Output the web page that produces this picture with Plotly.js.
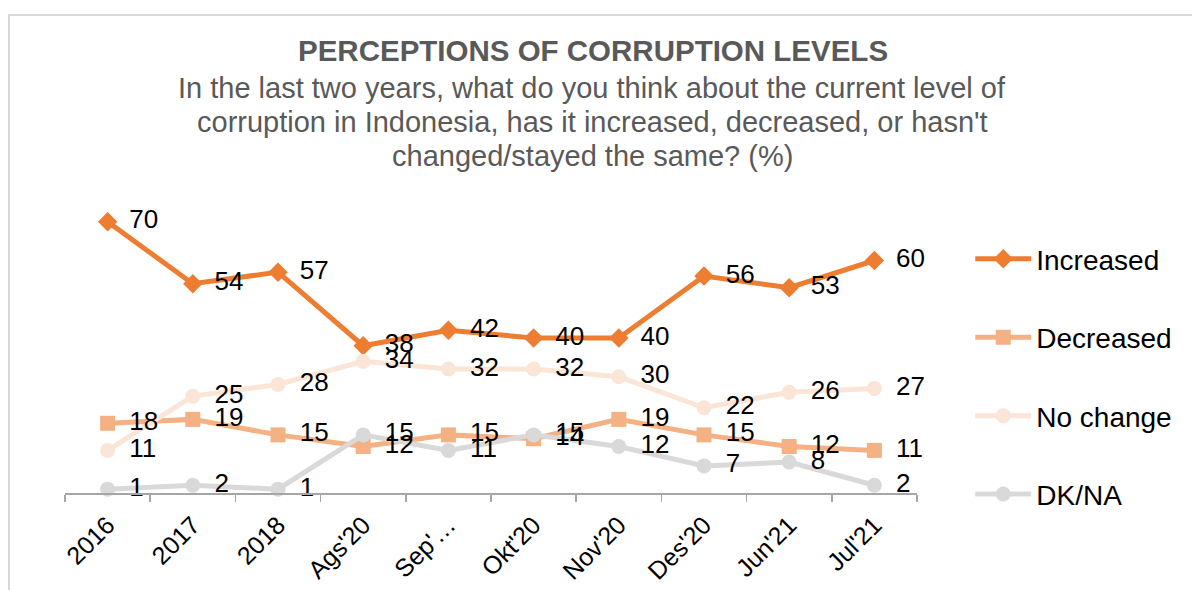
<!DOCTYPE html>
<html>
<head>
<meta charset="utf-8">
<script src="https://cdn.plot.ly/plotly-3.0.1.min.js"></script>
<style>
  html, body { margin: 0; padding: 0; background: #ffffff; }
  #frame { position: absolute; left: 8px; top: 14px; width: 1300px; height: 700px; border: 2px solid #d9d9d9; box-sizing: border-box; }
  #chart { position: absolute; left: 0; top: 0; width: 1192px; height: 590px; }
</style>
</head>
<body>
<div id="frame"></div>
<div id="chart"></div>
<script>
var categories = ["2016", "2017", "2018", "Ags'20", "Sep'\u2026", "Okt'20", "Nov'20", "Des'20", "Jun'21", "Jul'21"];
var increased = [70, 54, 57, 38, 42, 40, 40, 56, 53, 60];
var decreased = [18, 19, 15, 12, 15, 14, 19, 15, 12, 11];
var noChange  = [11, 25, 28, 34, 32, 32, 30, 22, 26, 27];
var dkna      = [1, 2, 1, 15, 11, 15, 12, 7, 8, 2];

var seriesNames = ["Increased", "Decreased", "No change", "DK/NA"];
var seriesValues = [increased, decreased, noChange, dkna];
var colors = ["#ED7D31", "#F4B183", "#FBE5D6", "#D9D9D9"];
var symbols = ["diamond", "square", "circle", "circle"];

var titleText = "PERCEPTIONS OF CORRUPTION LEVELS";
var subtitleLines = [
  "In the last two years, what do you think about the current level of",
  "corruption in Indonesia, has it increased, decreased, or hasn't",
  "changed/stayed the same? (%)"
];

var FONT = "Liberation Sans, Arial, sans-serif";
var traces = [];
for (var i = 0; i < seriesNames.length; i++) {
  traces.push({
    type: "scatter", mode: "lines+markers", name: seriesNames[i],
    x: categories, y: seriesValues[i],
    line: {color: colors[i], width: 5},
    marker: {symbol: symbols[i], size: 15, color: colors[i]},
    legendgroup: "g" + i,
    hoverinfo: "skip", cliponaxis: false
  });
}
for (var j = 0; j < seriesNames.length; j++) {
  traces.push({
    type: "scatter", mode: "text", showlegend: false,
    x: categories, y: seriesValues[j],
    text: seriesValues[j].map(function (v) { return "\u00a0\u00a0\u00a0" + v; }),
    textposition: "middle right",
    textfont: {family: FONT, size: 26, color: "#000000"},
    hoverinfo: "skip", cliponaxis: false
  });
}

// pixel -> paper helpers for the fixed plot area (top 183, bottom 493, left 65, width 852)
function py(p) { return (493 - p) / 310; }
function px(p) { return (p - 65) / 852; }

var annotations = [{
  xref: "paper", yref: "paper", x: px(593), y: py(50), xanchor: "center", yanchor: "middle",
  text: "<b>" + titleText + "</b>", showarrow: false,
  font: {family: FONT, size: 29.5, color: "#595959"}
}];
var lineY = [88, 122, 156];
for (var k = 0; k < subtitleLines.length; k++) {
  annotations.push({
    xref: "paper", yref: "paper", x: px(592), y: py(lineY[k]), xanchor: "center", yanchor: "middle",
    text: subtitleLines[k], showarrow: false,
    font: {family: FONT, size: 29, color: "#595959"}
  });
}

var layout = {
  width: 1192, height: 590,
  paper_bgcolor: "rgba(0,0,0,0)", plot_bgcolor: "rgba(0,0,0,0)",
  margin: {l: 65, r: 275, t: 183, b: 97},
  font: {family: FONT, color: "#000000"},
  showlegend: true,
  legend: {
    x: 1.0625, xanchor: "left", y: 0.835, yanchor: "top",
    traceorder: "grouped", tracegroupgap: 39,
    itemwidth: 56,
    font: {family: FONT, size: 28, color: "#000000"},
    bgcolor: "rgba(0,0,0,0)"
  },
  xaxis: {
    type: "category", range: [-0.5, 9.5], fixedrange: true,
    showline: true, linecolor: "#a6a6a6", linewidth: 1.5,
    ticks: "outside", tickson: "boundaries", ticklen: 7, tickcolor: "#a6a6a6", tickwidth: 1.5,
    tickangle: -45, ticklabelstandoff: 6,
    tickfont: {family: FONT, size: 25, color: "#000000"},
    showgrid: false, zeroline: false
  },
  yaxis: {
    range: [0, 80], visible: false, showgrid: false, zeroline: false, fixedrange: true
  },
  annotations: annotations
};

Plotly.newPlot("chart", traces, layout, {displayModeBar: false, staticPlot: true});
</script>
</body>
</html>
